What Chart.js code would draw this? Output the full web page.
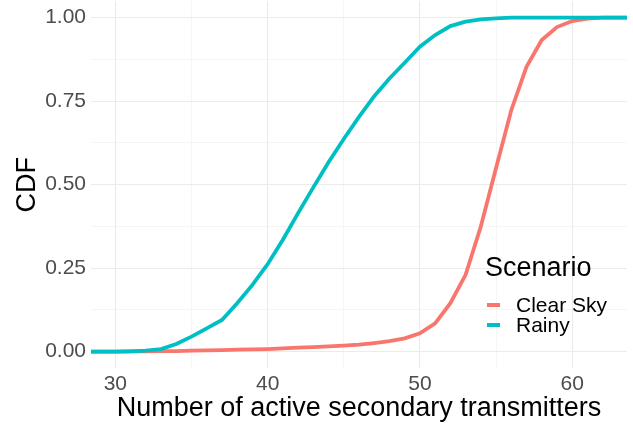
<!DOCTYPE html>
<html>
<head>
<meta charset="utf-8">
<script src="https://cdn.jsdelivr.net/npm/chart.js@4"></script>
<style>
  html, body { margin: 0; padding: 0; background: #fff; }
  #wrap { width: 633px; height: 423px; }
</style>
</head>
<body>
<div id="wrap"><canvas id="chart" width="633" height="423"></canvas></div>
<script>
// number of active secondary transmitters
var nValues = [30, 31, 32, 33, 34, 35, 36, 37, 38, 39, 40, 41, 42, 43, 44, 45, 46,
               47, 48, 49, 50, 51, 52, 53, 54, 55, 56, 57, 58, 59, 60, 61, 62];
// CDF, clear sky
var clearSky = [0, 0.001, 0.001, 0.002, 0.002, 0.003, 0.004, 0.005, 0.006, 0.007, 0.008,
                0.010, 0.012, 0.014, 0.016, 0.018, 0.021, 0.026, 0.032, 0.040, 0.055,
                0.085, 0.145, 0.230, 0.375, 0.550, 0.723, 0.853, 0.933, 0.972, 0.990,
                0.997, 1.000];
// CDF, rainy
var rainy = [0, 0.001, 0.003, 0.008, 0.023, 0.045, 0.070, 0.095, 0.145, 0.200, 0.262,
             0.335, 0.415, 0.492, 0.567, 0.637, 0.703, 0.765, 0.818, 0.865, 0.913,
             0.948, 0.975, 0.988, 0.995, 0.998, 1.000, 1.000, 1.000, 1.000, 1.000,
             1.000, 1.000];
var seriesNames = ['Clear Sky', 'Rainy'];
var seriesColors = ['#F8766D', '#00BFC4'];
var xTickValues = [30, 35, 40, 45, 50, 55, 60];
var xLabelled = [30, 40, 50, 60];
var yTickValues = [0, 0.125, 0.25, 0.375, 0.5, 0.625, 0.75, 0.875, 1];
var yLabelled = [0, 0.25, 0.5, 0.75, 1];

var FONT = "'Liberation Sans', Arial, sans-serif";

// ggplot-like 5% expansion, ecdf padded out to the panel edges
var span = nValues[nValues.length - 1] - nValues[0];
var xMin = nValues[0] - 0.05 * span;
var xMax = nValues[nValues.length - 1] + 0.05 * span;

function toPoints(vals) {
  var pts = [{x: xMin, y: 0}];
  nValues.forEach(function (n, i) { pts.push({x: n, y: vals[i]}); });
  pts.push({x: xMax, y: 1});
  return pts;
}

function gridColor(labelled) {
  return function (ctx) {
    return labelled.indexOf(ctx.tick.value) >= 0 ? '#EBEBEB' : '#F2F2F2';
  };
}
function gridWidth(labelled) {
  return function (ctx) {
    return labelled.indexOf(ctx.tick.value) >= 0 ? 1.1 : 0.8;
  };
}

var legendPlugin = {
  id: 'ggLegend',
  afterDraw: function (chart) {
    var ctx = chart.ctx;
    ctx.save();
    ctx.fillStyle = '#000';
    ctx.textBaseline = 'middle';
    ctx.textAlign = 'left';
    ctx.font = '27px ' + FONT;
    ctx.fillText('Scenario', 485, 269);
    ctx.font = '21px ' + FONT;
    seriesNames.forEach(function (name, i) {
      var y = 305 + i * 20;
      ctx.strokeStyle = seriesColors[i];
      ctx.lineWidth = 4;
      ctx.beginPath();
      ctx.moveTo(487, y);
      ctx.lineTo(500, y);
      ctx.stroke();
      ctx.fillText(name, 516, y + 1);
    });
    ctx.restore();
  }
};

new Chart(document.getElementById('chart'), {
  type: 'line',
  data: {
    datasets: [
      { label: seriesNames[0], data: toPoints(clearSky), borderColor: seriesColors[0],
        borderWidth: 3.8, pointRadius: 0, order: 2 },
      { label: seriesNames[1], data: toPoints(rainy), borderColor: seriesColors[1],
        borderWidth: 3.8, pointRadius: 0, order: 1 }
    ]
  },
  options: {
    responsive: false,
    animation: false,
    layout: { padding: { top: 1, right: 6, left: 0, bottom: 0 } },
    plugins: { legend: { display: false }, tooltip: { enabled: false } },
    scales: {
      x: {
        type: 'linear', min: xMin, max: xMax,
        afterBuildTicks: function (s) { s.ticks = xTickValues.map(function (v) { return {value: v}; }); },
        afterFit: function (s) { s.height = 54.6; s.paddingLeft = 0; s.paddingRight = 0; },
        border: { display: false },
        grid: { drawTicks: false, color: gridColor(xLabelled), lineWidth: gridWidth(xLabelled) },
        ticks: {
          padding: 3, color: '#4D4D4D', maxRotation: 0, autoSkip: false,
          font: { family: FONT, size: 21 },
          callback: function (v) { return xLabelled.indexOf(v) >= 0 ? String(v) : ''; }
        },
        title: {
          display: true, text: 'Number of active secondary transmitters', color: '#000',
          font: { family: FONT, size: 27, lineHeight: 1 }, padding: { top: 0, bottom: 1 }
        }
      },
      y: {
        min: -0.05, max: 1.05,
        afterBuildTicks: function (s) { s.ticks = yTickValues.map(function (v) { return {value: v}; }); },
        afterFit: function (s) { s.width = 91; s.paddingTop = 0; s.paddingBottom = 0; },
        border: { display: false },
        grid: { drawTicks: false, color: gridColor(yLabelled), lineWidth: gridWidth(yLabelled) },
        ticks: {
          padding: 5, color: '#4D4D4D', autoSkip: false,
          font: { family: FONT, size: 21 },
          callback: function (v) { return yLabelled.indexOf(v) >= 0 ? v.toFixed(2) : ''; }
        },
        title: {
          display: true, text: 'CDF', color: '#000',
          font: { family: FONT, size: 27, lineHeight: 1 }, padding: { top: 14, bottom: 0 }
        }
      }
    }
  },
  plugins: [legendPlugin]
});
</script>
</body>
</html>
